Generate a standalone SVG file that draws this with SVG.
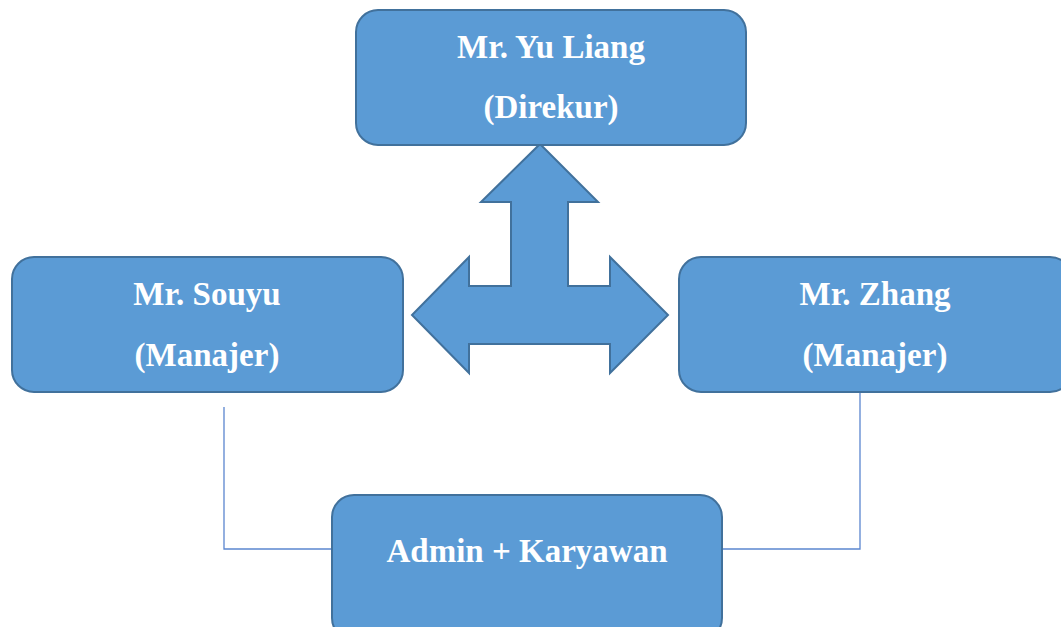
<svg xmlns="http://www.w3.org/2000/svg" width="1061" height="627" viewBox="0 0 1061 627">
<style>
.box{fill:#5B9BD5;stroke:#41719C;stroke-width:2}
.t{font-family:"Liberation Serif","Times New Roman",serif;font-weight:bold;font-size:33px;fill:#ffffff;text-anchor:middle}
.c{fill:none;stroke:#5B86CF;stroke-width:1.3}
</style>
<rect width="1061" height="627" fill="#ffffff"/>
<g id="connectors">
<polyline class="c" points="224,407 224,549 332,549"/>
<polyline class="c" points="860,392 860,549 722,549"/>
<path id="arrow3way" class="box" d="M540,144 L598,202 L568,202 L568,286 L610,286 L610,257 L668,315 L610,373 L610,344 L469,344 L469,373 L412,315 L469,257 L469,286 L511,286 L511,202 L481,202 Z"/>
</g>
<g id="node-yuliang">
<rect class="box" x="356" y="10" width="390" height="135" rx="22"/>
<text class="t" x="551" y="58">Mr. Yu Liang</text>
<text class="t" x="551" y="118">(Direkur)</text>
</g>
<g id="node-souyu">
<rect class="box" x="12" y="257" width="391" height="135" rx="22"/>
<text class="t" x="207" y="305">Mr. Souyu</text>
<text class="t" x="207" y="366">(Manajer)</text>
</g>
<g id="node-zhang">
<rect class="box" x="679" y="257" width="393" height="135" rx="22"/>
<text class="t" x="875" y="305">Mr. Zhang</text>
<text class="t" x="875" y="366">(Manajer)</text>
</g>
<g id="node-admin">
<rect class="box" x="332" y="495" width="390" height="145" rx="22"/>
<text class="t" x="527" y="562">Admin + Karyawan</text>
</g>
</svg>
